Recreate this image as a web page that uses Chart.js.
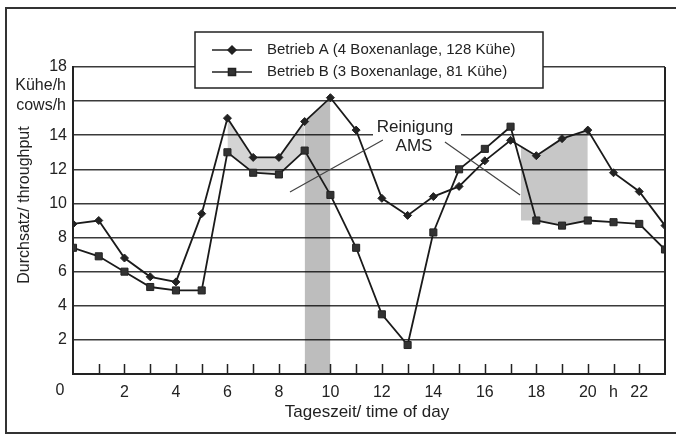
<!DOCTYPE html>
<html>
<head>
<meta charset="utf-8">
<script src="https://cdn.jsdelivr.net/npm/chart.js@4.4.1/dist/chart.umd.min.js"></script>
<style>
  html, body { margin: 0; padding: 0; background: #fff; }
  #wrap { width: 676px; height: 435px; position: relative; }
</style>
</head>
<body>
<div id="wrap"><canvas id="c" width="676" height="435"></canvas></div>
<script>
// data
var hours = [0, 1, 2, 3, 4, 5, 6, 7, 8, 9, 10, 11, 12, 13, 14, 15, 16, 17, 18, 19, 20, 21, 22, 23];
var betriebA = [8.8, 9.0, 6.8, 5.7, 5.4, 9.4, 15.0, 12.7, 12.7, 14.8, 16.2, 14.3, 10.3, 9.3, 10.4, 11.0, 12.5, 13.7, 12.8, 13.8, 14.3, 11.8, 10.7, 8.7];
var betriebB = [7.4, 6.9, 6.0, 5.1, 4.9, 4.9, 13.0, 11.8, 11.7, 13.1, 10.5, 7.4, 3.5, 1.7, 8.3, 12.0, 13.2, 14.5, 9.0, 8.7, 9.0, 8.9, 8.8, 7.3];
var xTickLabels = ['', '', '2', '', '4', '', '6', '', '8', '', '10', '', '12', '', '14', '', '16', '', '18', '', '20', 'h', '22', ''];
var yTickLabels = ['', '2', '4', '6', '8', '10', '12', '14', '', '18'];
var legendLabels = ['Betrieb A (4 Boxenanlage, 128 Kühe)', 'Betrieb B (3 Boxenanlage, 81 Kühe)'];
// shaded "Reinigung AMS" periods
var cleanSpanA = [6, 9];   // between the two curves
var cleanBand = [9, 10];   // from zero up to curve A
var cleanSpanB = [18, 20]; // between the two curves
var cleanEdgeB = { hour: 17.4, top: 13.4, bottom: 9.0 };

var FONT = '"Liberation Sans", Arial, Helvetica, sans-serif';

function pts(series, from, to) {
  return hours.slice(from, to + 1).map(function (h) { return { x: h, y: series[h] }; });
}

var shadeATop = pts(betriebA, cleanSpanA[0], cleanSpanA[1]);
var shadeABot = pts(betriebB, cleanSpanA[0], cleanSpanA[1]);
var bandTop = pts(betriebA, cleanBand[0], cleanBand[1]);
var shadeBTop = [{ x: cleanEdgeB.hour, y: cleanEdgeB.top }].concat(pts(betriebA, cleanSpanB[0], cleanSpanB[1]));
var shadeBBot = [{ x: cleanEdgeB.hour, y: cleanEdgeB.bottom }].concat(pts(betriebB, cleanSpanB[0], cleanSpanB[1]));

function shade(data, fill, color) {
  return { data: data, fill: fill, backgroundColor: color, borderWidth: 0, pointRadius: 0, order: 5 };
}

var decor = {
  id: 'decor',
  beforeDraw: function (chart) {
    var ctx = chart.ctx;
    ctx.save();
    ctx.fillStyle = '#fff';
    ctx.fillRect(0, 0, chart.width, chart.height);
    ctx.restore();
  },
  afterDraw: function (chart) {
    var ctx = chart.ctx, xs = chart.scales.x, ys = chart.scales.y, a = chart.chartArea;
    ctx.save();
    ctx.strokeStyle = '#222';
    ctx.fillStyle = '#222';

    // right border of the plot
    ctx.lineWidth = 2;
    ctx.beginPath();
    ctx.moveTo(a.right, a.top);
    ctx.lineTo(a.right, a.bottom);
    ctx.stroke();

    // small inward ticks on the time axis
    ctx.lineWidth = 1.5;
    ctx.beginPath();
    for (var h = 1; h < 23; h++) {
      var tx = Math.round(xs.getPixelForValue(h)) + 0.5;
      ctx.moveTo(tx, a.bottom - 10);
      ctx.lineTo(tx, a.bottom);
    }
    ctx.stroke();

    // outer frame
    ctx.lineWidth = 2;
    ctx.strokeStyle = '#333';
    ctx.beginPath();
    ctx.moveTo(676, 8);
    ctx.lineTo(6, 8);
    ctx.lineTo(6, 433);
    ctx.lineTo(676, 433);
    ctx.stroke();

    // axis texts
    ctx.font = '16px ' + FONT;
    ctx.textBaseline = 'middle';
    ctx.textAlign = 'right';
    ctx.fillText('Kühe/h', 66, 86);
    ctx.fillText('cows/h', 66, 106);
    ctx.textAlign = 'center';
    ctx.fillText('0', 60, 391);
    ctx.font = '17px ' + FONT;
    ctx.fillText('Tageszeit/ time of day', 367, 412);
    ctx.save();
    ctx.translate(25, 205);
    ctx.rotate(-Math.PI / 2);
    ctx.font = '16px ' + FONT;
    ctx.fillText('Durchsatz/ throughput', 0, 0);
    ctx.restore();

    // annotation
    ctx.fillStyle = '#fff';
    ctx.fillRect(373, 117, 88, 38);
    ctx.fillStyle = '#222';
    ctx.font = '17px ' + FONT;
    ctx.fillText('Reinigung', 415, 127);
    ctx.fillText('AMS', 414, 146);
    ctx.strokeStyle = '#444';
    ctx.lineWidth = 1.2;
    ctx.beginPath();
    ctx.moveTo(xs.getPixelForValue(8.43), ys.getPixelForValue(10.67));
    ctx.lineTo(xs.getPixelForValue(12.04), ys.getPixelForValue(13.72));
    ctx.moveTo(xs.getPixelForValue(14.45), ys.getPixelForValue(13.6));
    ctx.lineTo(xs.getPixelForValue(17.37), ys.getPixelForValue(10.49));
    ctx.stroke();

    // legend box
    ctx.fillStyle = '#fff';
    ctx.fillRect(195, 32, 348, 56);
    ctx.strokeStyle = '#222';
    ctx.lineWidth = 1.5;
    ctx.strokeRect(195, 32, 348, 56);
    var rowsY = [50, 72];
    chart.data.datasets.filter(function (d) { return d.isSeries; }).forEach(function (d, i) {
      var y = rowsY[i];
      ctx.strokeStyle = '#222';
      ctx.lineWidth = 1.5;
      ctx.beginPath();
      ctx.moveTo(212, y);
      ctx.lineTo(252, y);
      ctx.stroke();
      ctx.fillStyle = d.pointBackgroundColor;
      ctx.strokeStyle = d.pointBorderColor;
      Chart.helpers.drawPoint(ctx, { pointStyle: d.pointStyle, radius: d.pointRadius, rotation: 0, borderWidth: 1 }, 232, y);
      ctx.fillStyle = '#222';
      ctx.font = '15px ' + FONT;
      ctx.textAlign = 'left';
      ctx.fillText(legendLabels[i], 267, y);
    });
    ctx.restore();
  }
};

new Chart(document.getElementById('c'), {
  type: 'line',
  data: {
    datasets: [
      shade(shadeATop, '+1', 'rgba(0,0,0,0.17)'),
      shade(shadeABot, false, 'rgba(0,0,0,0)'),
      shade(bandTop, 'origin', 'rgba(0,0,0,0.26)'),
      shade(shadeBTop, '+1', 'rgba(0,0,0,0.22)'),
      shade(shadeBBot, false, 'rgba(0,0,0,0)'),
      {
        isSeries: true,
        data: hours.map(function (h) { return { x: h, y: betriebA[h] }; }),
        borderColor: '#1a1a1a', borderWidth: 1.8, fill: false, tension: 0, order: 0,
        pointStyle: 'rectRot', pointRadius: 4,
        pointBackgroundColor: '#222', pointBorderColor: '#222', pointBorderWidth: 1
      },
      {
        isSeries: true,
        data: hours.map(function (h) { return { x: h, y: betriebB[h] }; }),
        borderColor: '#1a1a1a', borderWidth: 1.8, fill: false, tension: 0, order: 0,
        pointStyle: 'rect', pointRadius: 5,
        pointBackgroundColor: '#333', pointBorderColor: '#222', pointBorderWidth: 1
      }
    ]
  },
  options: {
    responsive: false,
    animation: false,
    devicePixelRatio: 1,
    layout: { padding: { top: 67, right: 11, left: 0, bottom: 0 } },
    plugins: {
      legend: { display: false },
      tooltip: { enabled: false },
      filler: { propagate: false }
    },
    scales: {
      x: {
        type: 'linear', min: 0, max: 23,
        afterFit: function (s) { s.height = 61; },
        grid: { display: false, drawTicks: false },
        border: { display: true, color: '#222', width: 2 },
        ticks: {
          stepSize: 1, autoSkip: false, maxRotation: 0, padding: 9, color: '#222',
          font: { family: FONT, size: 16 },
          callback: function (v) { return xTickLabels[v] || ''; }
        }
      },
      y: {
        min: 0, max: 18,
        afterFit: function (s) { s.width = 73; },
        grid: { color: '#3a3a3a', lineWidth: 1.5, drawTicks: false },
        border: { display: true, color: '#222', width: 2 },
        ticks: {
          stepSize: 2, padding: 6, color: '#222',
          font: { family: FONT, size: 16 },
          callback: function (v) { return yTickLabels[v / 2] || ''; }
        }
      }
    }
  },
  plugins: [decor]
});
</script>
</body>
</html>
